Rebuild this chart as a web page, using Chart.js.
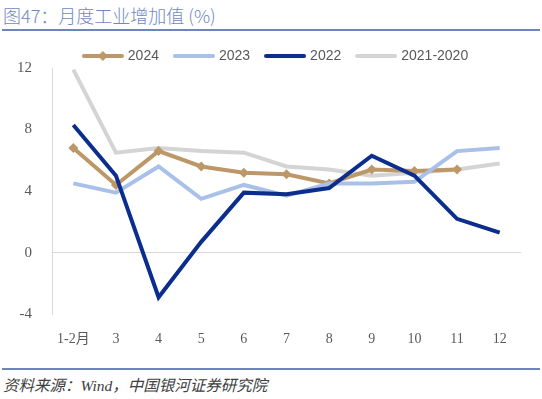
<!DOCTYPE html>
<html>
<head>
<meta charset="utf-8">
<script src="https://cdn.jsdelivr.net/npm/chart.js@4"></script>
<style>
  body { margin: 0; width: 542px; height: 399px; background: #fff; position: relative; overflow: hidden; }
  #title { position: absolute; left: 3px; top: 2px; font: 300 18px "Noto Sans CJK SC", sans-serif; color: #7088bf; white-space: nowrap; }
  .rule { position: absolute; left: 2px; width: 538px; height: 2px; background: #6d85bc; }
  #source { position: absolute; left: 3px; top: 373px; font: italic 15.5px "Liberation Serif", "Noto Sans CJK SC", serif; color: #404040; white-space: nowrap; }
  #wrap { position: absolute; left: 0; top: 0; width: 542px; height: 357px; }
</style>
</head>
<body>
<div id="title">图47：月度工业增加值 (%)</div>
<div class="rule" style="top:29px"></div>
<div id="wrap"><canvas id="chart"></canvas></div>
<div class="rule" style="top:368px"></div>
<div id="source">资料来源：Wind，中国银河证券研究院</div>
<script>
const months = ['1-2月', '3', '4', '5', '6', '7', '8', '9', '10', '11', '12'];
const y2024 = [6.8, 4.4, 6.6, 5.6, 5.2, 5.1, 4.5, 5.4, 5.3, 5.4, null];
const y2023 = [4.5, 3.9, 5.6, 3.5, 4.4, 3.7, 4.5, 4.5, 4.6, 6.6, 6.8];
const y2022 = [8.3, 5.0, -2.9, 0.7, 3.9, 3.8, 4.2, 6.3, 5.0, 2.2, 1.3];
const y2021 = [11.9, 6.5, 6.8, 6.6, 6.5, 5.6, 5.4, 5.0, 5.2, 5.4, 5.8];
const yMin = -4, yMax = 12, yStep = 4;

function legendIcon(color, diamond) {
    const c = document.createElement('canvas');
    c.width = 42; c.height = 12;
    const g = c.getContext('2d');
    g.strokeStyle = color; g.lineWidth = 4; g.lineCap = 'round';
    g.beginPath(); g.moveTo(2, 6); g.lineTo(40, 6); g.stroke();
    if (diamond) {
        g.fillStyle = color;
        g.beginPath(); g.moveTo(21, 1); g.lineTo(26, 6); g.lineTo(21, 11); g.lineTo(16, 6); g.closePath(); g.fill();
    }
    return c;
}

const series = [
    { label: '2024', data: y2024, color: '#bc9869', marker: true, order: 3 },
    { label: '2023', data: y2023, color: '#a9c0e8', order: 2 },
    { label: '2022', data: y2022, color: '#0b2d8d', order: 1 },
    { label: '2021-2020', data: y2021, color: '#d4d4d4', order: 4 }
];

const datasets = series.map(s => ({
    label: s.label,
    data: s.data,
    borderColor: s.color,
    backgroundColor: s.color,
    borderWidth: 4,
    tension: 0,
    pointStyle: s.marker ? 'rectRot' : false,
    pointRadius: s.marker ? 5 : 0,
    pointBackgroundColor: s.color,
    pointBorderWidth: 0,
    order: s.order,
    icon: legendIcon(s.color, s.marker)
}));

// nudge the legend row to where the original sits
const legendShift = {
    id: 'legendShift',
    afterLayout(chart) {
        const lg = chart.legend;
        lg.left += 16; lg.right += 16;
        lg.top += 5; lg.bottom += 5;
    }
};

new Chart(document.getElementById('chart'), {
    type: 'line',
    data: { labels: months, datasets: datasets },
    plugins: [legendShift],
    options: {
        responsive: true,
        maintainAspectRatio: false,
        animation: false,
        layout: { padding: { left: 0, right: 21, top: 27, bottom: 0 } },
        plugins: {
            tooltip: { enabled: false },
            legend: {
                labels: {
                    usePointStyle: true,
                    pointStyleWidth: 36,
                    padding: 17,
                    color: '#595959',
                    font: { family: '"Liberation Sans", sans-serif', size: 14 },
                    generateLabels: chart => chart.data.datasets.map((d, i) => ({
                        text: d.label,
                        pointStyle: d.icon,
                        fontColor: '#595959',
                        lineWidth: 0,
                        datasetIndex: i
                    }))
                }
            }
        },
        scales: {
            x: {
                offset: true,
                grid: { display: false },
                border: { display: false },
                ticks: {
                    color: '#595959',
                    padding: 9,
                    maxRotation: 0,
                    autoSkip: false,
                    font: { family: '"Liberation Serif", "Noto Sans CJK SC", serif', size: 14 }
                }
            },
            y: {
                min: yMin,
                max: yMax,
                afterFit: axis => { axis.width = 52; },
                grid: {
                    drawTicks: false,
                    color: ctx => ctx.tick && ctx.tick.value === 0 ? '#d9d9d9' : 'rgba(0,0,0,0)',
                    lineWidth: 1
                },
                border: { display: true, color: '#d9d9d9', width: 1 },
                ticks: {
                    stepSize: yStep,
                    color: '#595959',
                    padding: 20,
                    font: { family: '"Liberation Serif", serif', size: 15 }
                }
            }
        }
    }
});
</script>
</body>
</html>
